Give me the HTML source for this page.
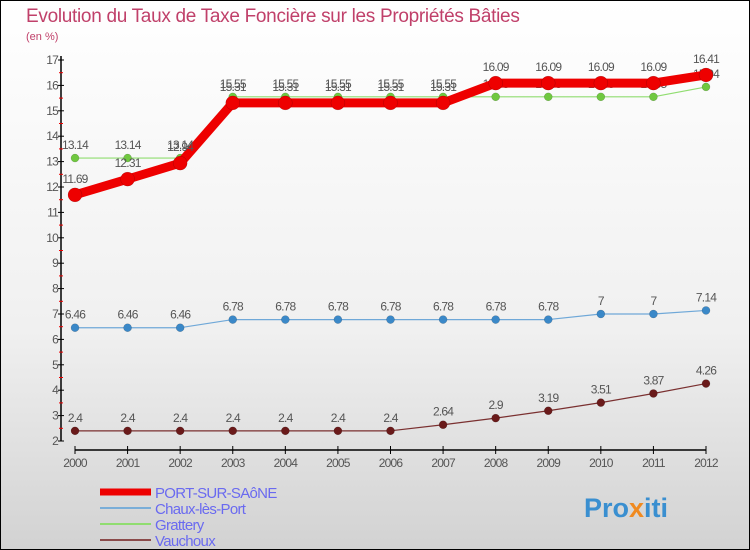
<!DOCTYPE html>
<html><head><meta charset="utf-8">
<style>
html,body{margin:0;padding:0;}
body{width:750px;height:550px;overflow:hidden;font-family:"Liberation Sans",sans-serif;}
svg{display:block;}
</style></head>
<body>
<svg id="chart" width="750" height="550" xmlns="http://www.w3.org/2000/svg">
<defs>
<linearGradient id="bg" x1="0" y1="0" x2="0" y2="1">
<stop offset="0" stop-color="#ffffff"/><stop offset="0.6" stop-color="#f0f0f0"/><stop offset="1" stop-color="#d2d2d2"/>
</linearGradient>
</defs>
<rect x="0.5" y="0.5" width="749" height="549" fill="url(#bg)" stroke="#000"/>
<text x="26" y="22" font-size="19" fill="#c0406a" letter-spacing="-0.3">Evolution du Taux de Taxe Foncière sur les Propriétés Bâties</text>
<text x="26" y="40" font-size="11" fill="#c0406a">(en %)</text>
<g id="axes"></g>
<g id="series"></g>
<g id="legend"></g>
<text x="584" y="517" font-size="27" font-weight="bold" fill="#3a8fd0">Pro<tspan fill="#f08a20">x</tspan>iti</text>
</svg>
<script>
const years = [2000,2001,2002,2003,2004,2005,2006,2007,2008,2009,2010,2011,2012];
const yTicks = [2,3,4,5,6,7,8,9,10,11,12,13,14,15,16,17];
const portValues = [11.69,12.31,12.94,15.31,15.31,15.31,15.31,15.31,16.09,16.09,16.09,16.09,16.41];
const chauxValues = [6.46,6.46,6.46,6.78,6.78,6.78,6.78,6.78,6.78,6.78,7,7,7.14];
const gratteryValues = [13.14,13.14,13.14,15.55,15.55,15.55,15.55,15.55,15.55,15.55,15.55,15.55,15.94];
const vauchouxValues = [2.4,2.4,2.4,2.4,2.4,2.4,2.4,2.64,2.9,3.19,3.51,3.87,4.26];

const NS="http://www.w3.org/2000/svg";
const X0=75,X1=706,Y17=60,Y2=441;
const xs=i=>X0+(X1-X0)*i/(years.length-1);
const ys=v=>Y2-(v-2)*(Y2-Y17)/15;
function mk(tag,attrs,parent){const e=document.createElementNS(NS,tag);for(const k in attrs)e.setAttribute(k,attrs[k]);parent.appendChild(e);return e;}
const axes=document.getElementById('axes');
let ya=mk('line',{x1:61,y1:Y17-4,x2:61,y2:Y2,stroke:'#000','stroke-width':1.5},axes);


yTicks.forEach(v=>{
  const y=ys(v);
  let t=mk('line',{x1:58,y1:y,x2:64,y2:y,stroke:'#000'},axes);
  
  
  let l=mk('text',{x:58,y:y+4,'font-size':12,fill:'#555','text-anchor':'end','letter-spacing':'-0.8'},axes);
  l.textContent=v;
  
  
  if(v<17){let m=mk('line',{x1:59,y1:ys(v+0.5),x2:63,y2:ys(v+0.5),stroke:'#e00'},axes);
  
  }
});
let xa=mk('line',{x1:X0,y1:450,x2:X1,y2:450,stroke:'#000','stroke-width':1.5},axes);


years.forEach((yr,i)=>{
  const x=xs(i);
  let t=mk('line',{x1:x,y1:446,x2:x,y2:454,stroke:'#000'},axes);
  
  
  let l=mk('text',{x:x,y:467,'font-size':12,fill:'#555','text-anchor':'middle','letter-spacing':'-0.8'},axes);
  l.textContent=yr;
  
  
});
const seriesG=document.getElementById('series');
function drawSeries(vals,name,color,dot,w,r,labelDy){
  const g=mk('g',{},seriesG);
  
  
  const pl=mk('polyline',{points:vals.map((v,i)=>xs(i)+','+ys(v)).join(' '),fill:'none',stroke:color,'stroke-width':w,'stroke-linejoin':'round'},g);
  
  
  vals.forEach((v,i)=>{
    const c=mk('circle',{cx:xs(i),cy:ys(v),r:r,fill:dot,stroke:'rgba(0,0,0,0.25)','stroke-width':0.5},g);
    
    
    const t=mk('text',{x:xs(i),y:ys(v)+labelDy,'font-size':12,fill:'#555','text-anchor':'middle','letter-spacing':'-0.8'},g);
    t.textContent=v;
    
    
  });
}
drawSeries(vauchouxValues,'vauchoux','#7a3030','#6a1a1a',1.2,4,-9);
drawSeries(chauxValues,'chaux-les-port','#6fa8d8','#3a88c8',1.2,4,-9);
drawSeries(gratteryValues,'grattery','#90dd70','#70c840',1.2,4,-9);
drawSeries(portValues,'port-sur-saone','#ee0000','#ee0000',9,7,-12);
const lg=document.getElementById('legend');
const legItems=[['PORT-SUR-SAôNE','#ee0000',7],['Chaux-lès-Port','#7aaed8',2],['Grattery','#90dd70',2],['Vauchoux','#8a4a4a',2]];
legItems.forEach((it,i)=>{
  const y=492+i*16;
  const l=mk('line',{x1:100,y1:y,x2:151,y2:y,stroke:it[1],'stroke-width':it[2]},lg);
  
  
  const t=mk('text',{x:155,y:y+6,'font-size':15,fill:'#6a6af0','letter-spacing':'-0.7'},lg);
  t.textContent=it[0];
  
  
});
</script>
</body></html>
